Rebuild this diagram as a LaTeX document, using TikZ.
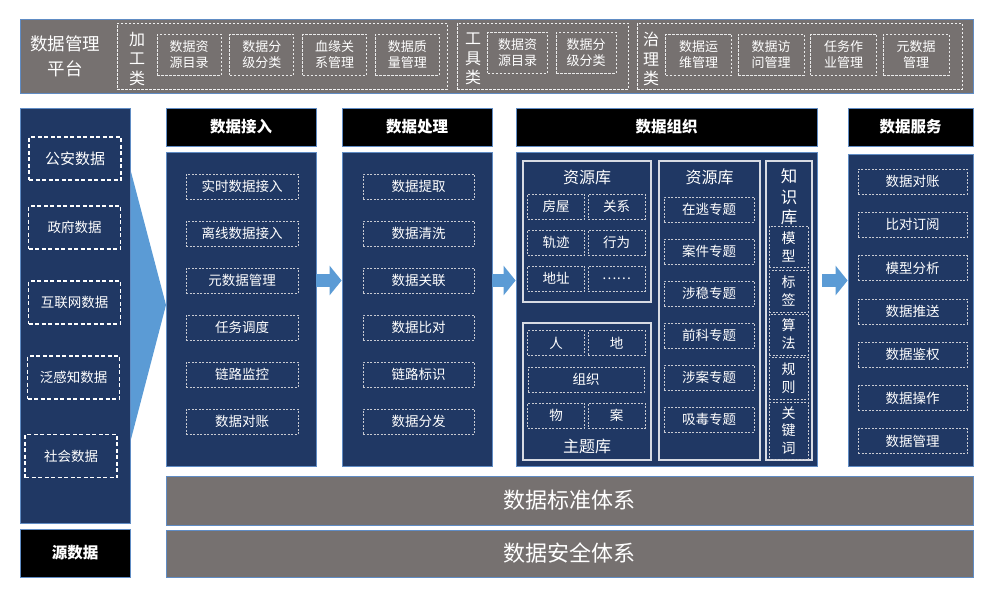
\documentclass[tikz,border=0pt]{standalone}
\usepackage{fontspec}
\setmainfont{Noto Sans CJK SC}
\definecolor{platgray}{RGB}{118,113,112}
\definecolor{navypanel}{RGB}{32,56,100}
\definecolor{edgeblue}{RGB}{96,140,196}
\definecolor{flowblue}{RGB}{91,155,213}
\definecolor{dashgray}{RGB}{200,202,210}
\colorlet{subline}{white!82!navypanel}
\usepackage{tikz}
\usetikzlibrary{calc, positioning, arrows.meta, fit}

\begin{document}
\begin{tikzpicture}[x=1pt, y=-1pt,
    every node/.style={text=white, align=center, inner sep=0pt},
    platbar/.style={fill=platgray, draw=edgeblue, line width=1pt},
    grpbox/.style={draw=white!90!platgray, line width=0.8pt, dash pattern=on 2.5pt off 1.5pt},
    toolbox/.style={draw=white!85!platgray, line width=0.7pt, dash pattern=on 2.5pt off 1.5pt, minimum height=41pt, font=\fontsize{13}{15.5}\selectfont},
    grplabel/.style={font=\fontsize{16}{19.5}\selectfont},
    panel/.style={fill=navypanel, draw=edgeblue, line width=0.8pt},
    header/.style={fill=black, draw=edgeblue, line width=0.8pt},
    headtext/.style={font=\fontsize{15.5}{18}\selectfont\bfseries},
    srcbox/.style={draw=white, line width=1.4pt, dash pattern=on 4pt off 2.5pt, minimum width=92pt, minimum height=43pt, font=\fontsize{13.5}{16}\selectfont},
    item/.style={draw=dashgray, line width=0.7pt, dash pattern=on 2pt off 1.5pt, minimum height=25pt, font=\fontsize{13.5}{16}\selectfont},
    libbox/.style={draw=subline, line width=1.3pt},
    libtitle/.style={font=\fontsize{16}{20}\selectfont},
    flow/.style={draw=flowblue, line width=13pt, -{Triangle[length=12pt, width=29pt]}},
    bartext/.style={font=\fontsize{22}{26}\selectfont}]

  \useasboundingbox (0,0) rectangle (993,598);

  \node[platbar, fit={(20,19) (973,93)}] (plat) {};
  \node[font=\fontsize{17.5}{25}\selectfont] (plattitle) at (65,56) {数据管理\\平台};

  \node[grpbox, fit={(117,23) (447,89)}] (gjg) {};
  \node[grplabel] (gjglbl) at (137,59) {加\\工\\类};
  \foreach \t [count=\i] in {数据资\\源目录, 数据分\\级分类, 血缘关\\系管理, 数据质\\量管理}
    \node[toolbox, minimum width=64pt] (gjg\i) at ({189+72.8*(\i-1)},54.5) {\t};

  \node[grpbox, fit={(457,23) (628,89)}] (ggj) {};
  \node[grplabel] (ggjlbl) at (473,59) {工\\具\\类};
  \foreach \t [count=\i] in {数据资\\源目录, 数据分\\级分类}
    \node[toolbox, minimum width=60pt] (ggj\i) at ({517.5+68.5*(\i-1)},52.5) {\t};

  \node[grpbox, fit={(637,23) (962,89)}] (gzl) {};
  \node[grplabel] (gzllbl) at (651,59) {治\\理\\类};
  \foreach \t [count=\i] in {数据运\\维管理, 数据访\\问管理, 任务作\\业管理, 元数据\\管理}
    \node[toolbox, minimum width=66pt] (gzl\i) at ({698.5+72.5*(\i-1)},54.5) {\t};

  \fill[flowblue] ($(20,108)+(110,60)$) -- (166,305) -- ($(20,523)+(110,-80)$) -- cycle;

  \node[panel, fit={(20,108) (130,523)}] (srcpanel) {};
  \node[srcbox, font=\fontsize{15}{18}\selectfont] (src1) at (75,158.5) {公安数据};
  \node[srcbox] (src2) at (74.5,227.5) {政府数据};
  \node[srcbox] (src3) at (74.5,302.5) {互联网数据};
  \node[srcbox] (src4) at (73.5,377.5) {泛感知数据};
  \node[srcbox] (src5) at (71,456) {社会数据};
  \node[header, fit={(20,529) (130,577)}] (srchead) {};
  \node[headtext] (srcheadt) at (srchead) {源数据};

  \node[header, fit={(166,108) (316,146)}] (acch) {};
  \node[headtext] (accht) at (acch) {数据接入};
  \node[panel, fit={(166,152) (316,466)}] (accb) {};
  \foreach \t [count=\i] in {实时数据接入, 离线数据接入, 元数据管理, 任务调度, 链路监控, 数据对账}
    \node[item, minimum width=112pt] (acc\i) at (242,{186.5+47*(\i-1)}) {\t};

  \node[header, fit={(342,108) (492,146)}] (proch) {};
  \node[headtext] (procht) at (proch) {数据处理};
  \node[panel, fit={(342,152) (492,466)}] (procb) {};
  \foreach \t [count=\i] in {数据提取, 数据清洗, 数据关联, 数据比对, 链路标识, 数据分发}
    \node[item, minimum width=111pt] (proc\i) at (418.5,{186.5+47*(\i-1)}) {\t};

  \node[header, fit={(516,108) (817,146)}] (orgh) {};
  \node[headtext] (orght) at (orgh) {数据组织};
  \node[panel, fit={(516,152) (817,466)}] (orgb) {};
  \node[libbox, fit={(523,161) (651,302)}] (reslib) {};
  \node[libtitle] (reslibt) at (587,177) {资源库};
  \foreach \t [count=\i, evaluate=\i as \cx using {556+60.5*mod(\i-1,2)}, evaluate=\i as \cy using {206.5+36*int((\i-1)/2)}] in {房屋, 关系, 轨迹, 行为, 地址, ……}
    \node[item, minimum width=57pt] (res\i) at (\cx,\cy) {\t};
  \node[libbox, fit={(523,323) (651,460)}] (topiclib) {};
  \node[item, minimum width=57pt] (top1) at (556,343) {人};
  \node[item, minimum width=57pt] (top2) at (616.5,343) {地};
  \node[item, minimum width=116pt] (top3) at (586,379.5) {组织};
  \node[item, minimum width=57pt] (top4) at (556,415.5) {物};
  \node[item, minimum width=57pt] (top5) at (616.5,415.5) {案};
  \node[libtitle] (topiclibt) at (587,446) {主题库};
  \node[libbox, fit={(659,161) (760,460)}] (speclib) {};
  \node[libtitle] (speclibt) at (709.5,177) {资源库};
  \foreach \t [count=\i] in {在逃专题, 案件专题, 涉稳专题, 前科专题, 涉案专题, 吸毒专题}
    \node[item, minimum width=90pt] (spec\i) at (709,{209.5+42*(\i-1)}) {\t};
  \node[libbox, fit={(766,161) (812,460)}] (knowlib) {};
  \node[libtitle, font=\fontsize{16.5}{20.5}\selectfont] (knowlibt) at (789,197) {知\\识\\库};
  \node[item, minimum width=39pt, minimum height=41pt, font=\fontsize{14}{18}\selectfont] (know1) at (788.5,246.5) {模\\型};
  \node[item, minimum width=39pt, minimum height=42pt, font=\fontsize{14}{18}\selectfont] (know2) at (788.5,291) {标\\签};
  \node[item, minimum width=39pt, minimum height=41pt, font=\fontsize{14}{18}\selectfont] (know3) at (788.5,334.5) {算\\法};
  \node[item, minimum width=39pt, minimum height=42pt, font=\fontsize{14}{18}\selectfont] (know4) at (788.5,378) {规\\则};
  \node[item, minimum width=39pt, minimum height=57pt, font=\fontsize{14}{17.5}\selectfont] (know5) at (788.5,430.5) {关\\键\\词};

  \node[header, fit={(848,108) (973,146)}] (svch) {};
  \node[headtext] (svcht) at (svch) {数据服务};
  \node[panel, fit={(848,154) (973,466)}] (svcb) {};
  \foreach \t [count=\i] in {数据对账, 比对订阅, 模型分析, 数据推送, 数据鉴权, 数据操作, 数据管理}
    \node[item, minimum width=109pt] (svc\i) at (912.5,{181.5+43.3*(\i-1)}) {\t};

  \draw[flow] (accb.east |- acc3) -- (procb.west |- acc3);
  \draw[flow] (procb.east |- proc3) -- (orgb.west |- proc3);
  \draw[flow, shorten <=5pt] (orgb.east |- proc3) -- (svcb.west |- proc3);

  \node[platbar, fit={(166,476) (973,525)}] (stdsys) {};
  \node[bartext] (stdsyst) at (stdsys) {数据标准体系};
  \node[platbar, fit={(166,530) (973,577)}] (secsys) {};
  \node[bartext] (secsyst) at (secsys) {数据安全体系};
\end{tikzpicture}
\end{document}
